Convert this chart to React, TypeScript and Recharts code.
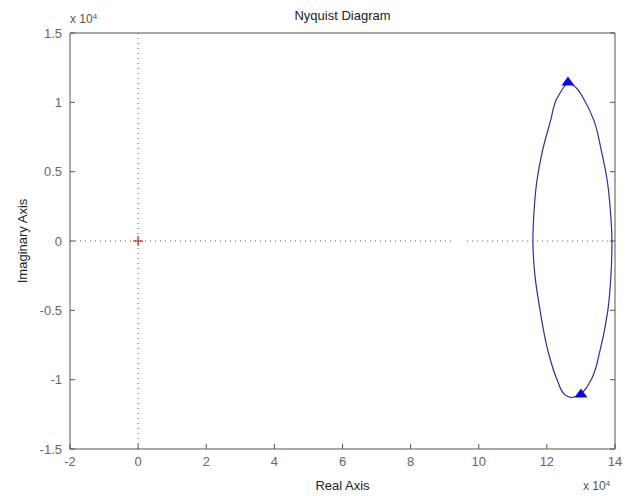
import React from 'react';
import { ComposedChart, Line, Scatter, XAxis, YAxis, ReferenceLine } from 'recharts';

// values are in units of 1e4 (the axes show "x 10^4")
const xTicks = [-2, 0, 2, 4, 6, 8, 10, 12, 14];
const yTicks = [-1.5, -1, -0.5, 0, 0.5, 1, 1.5];

// nyquist curve, split in two halves so each one is monotone in y
const rightRe = [12.62, 12.88, 13.09, 13.38, 13.6, 13.77, 13.87, 13.91, 13.88, 13.79, 13.56, 13.3, 13.09, 12.88, 12.71];
const rightIm = [1.15, 1.1, 1.02, 0.87, 0.65, 0.44, 0.2, 0, -0.25, -0.5, -0.79, -1.0, -1.08, -1.12, -1.13];
const leftRe = [12.71, 12.53, 12.3, 12.03, 11.8, 11.65, 11.59, 11.62, 11.71, 11.87, 12.11, 12.28, 12.47, 12.62];
const leftIm = [-1.13, -1.11, -1.0, -0.79, -0.5, -0.25, 0, 0.2, 0.44, 0.65, 0.87, 1.02, 1.1, 1.15];

// direction arrows and the critical point
const arrowRe = [12.62, 13.0];
const arrowIm = [1.15, -1.1];
const critical = [{ x: 0, y: 0 }];

// the dotted real axis has a small gap in it
const zeroLineLeft = [-2, 9.25];
const zeroLineRight = [9.66, 14];

const rightHalf = rightRe.map((x, i) => ({ x, y: rightIm[i] }));
const leftHalf = leftRe.map((x, i) => ({ x, y: leftIm[i] }));
const arrows = arrowRe.map((x, i) => ({ x, y: arrowIm[i] }));

const boxColour = '#555';
const curveColour = '#2e2e9c';
const tickText = { fontSize: 13, fill: '#666' };
const noLabel = () => <g />;

const Triangle = (props: any) => {
  const { cx, cy } = props;
  return <polygon points={`${cx},${cy - 5} ${cx - 6.5},${cy + 4} ${cx + 6.5},${cy + 4}`} fill="#0a0ae0" />;
};

const Plus = (props: any) => {
  const { cx, cy } = props;
  return (
    <g stroke="#cc2222" strokeWidth={1.2}>
      <line x1={cx - 5} y1={cy} x2={cx + 5} y2={cy} />
      <line x1={cx} y1={cy - 5} x2={cx} y2={cy + 5} />
    </g>
  );
};

const Multiplier = ({ left, top }: { left: number; top: number }) => (
  <div style={{ position: 'absolute', left, top, fontSize: 12, color: '#555', lineHeight: '12px', whiteSpace: 'nowrap' }}>
    x 10<sup style={{ fontSize: 8, position: 'relative', top: -2, verticalAlign: 'top' }}>4</sup>
  </div>
);

export default function App() {
  return (
    <div style={{ position: 'absolute', left: 0, top: 0, width: 629, height: 496, background: '#fff', fontFamily: '"Liberation Sans", Arial, sans-serif' }}>
      <ComposedChart width={629} height={496} margin={{ top: 0, right: 0, bottom: 0, left: 0 }}>
        <XAxis
          xAxisId="x"
          dataKey="x"
          type="number"
          domain={[-2, 14]}
          ticks={xTicks}
          allowDataOverflow
          height={47}
          tickSize={-5}
          tickMargin={13}
          tick={tickText}
          stroke={boxColour}
          label={{ value: 'Real Axis', position: 'insideBottom', offset: 6, fontSize: 13, fill: '#222' }}
        />
        <XAxis
          xAxisId="top"
          orientation="top"
          type="number"
          domain={[-2, 14]}
          ticks={xTicks}
          allowDataOverflow
          height={33}
          tickSize={-5}
          tick={noLabel}
          stroke={boxColour}
          label={{ value: 'Nyquist Diagram', position: 'insideTop', offset: 11, fontSize: 13, fill: '#222' }}
        />
        <YAxis
          yAxisId="y"
          dataKey="y"
          type="number"
          domain={[-1.5, 1.5]}
          ticks={yTicks}
          allowDataOverflow
          width={70}
          tickSize={-5}
          tickMargin={13}
          tick={tickText}
          stroke={boxColour}
          label={{ value: 'Imaginary Axis', angle: -90, position: 'insideLeft', offset: 22, fontSize: 13, fill: '#222', style: { textAnchor: 'middle' } }}
        />
        <YAxis
          yAxisId="right"
          orientation="right"
          type="number"
          domain={[-1.5, 1.5]}
          ticks={yTicks}
          allowDataOverflow
          width={14}
          tickSize={-5}
          tick={noLabel}
          stroke={boxColour}
        />

        <ReferenceLine xAxisId="x" yAxisId="y" x={0} stroke="#555" strokeDasharray="1 4" />
        <ReferenceLine
          xAxisId="x"
          yAxisId="y"
          segment={[{ x: zeroLineLeft[0], y: 0 }, { x: zeroLineLeft[1], y: 0 }]}
          stroke="#555"
          strokeDasharray="1 4"
        />
        <ReferenceLine
          xAxisId="x"
          yAxisId="y"
          segment={[{ x: zeroLineRight[0], y: 0 }, { x: zeroLineRight[1], y: 0 }]}
          stroke="#555"
          strokeDasharray="1 4"
        />

        <Line
          xAxisId="x"
          yAxisId="y"
          data={rightHalf}
          dataKey="y"
          type="monotoneY"
          stroke={curveColour}
          strokeWidth={1.2}
          dot={false}
          isAnimationActive={false}
        />
        <Line
          xAxisId="x"
          yAxisId="y"
          data={leftHalf}
          dataKey="y"
          type="monotoneY"
          stroke={curveColour}
          strokeWidth={1.2}
          dot={false}
          isAnimationActive={false}
        />
        <Scatter xAxisId="x" yAxisId="y" data={arrows} dataKey="y" shape={Triangle} isAnimationActive={false} />
        <Scatter xAxisId="x" yAxisId="y" data={critical} dataKey="y" shape={Plus} isAnimationActive={false} />
      </ComposedChart>
      <Multiplier left={70} top={13} />
      <Multiplier left={583} top={480} />
    </div>
  );
}
